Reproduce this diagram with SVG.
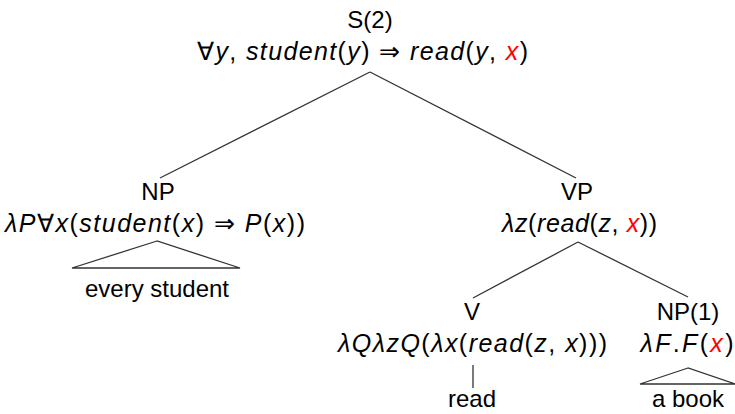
<svg xmlns="http://www.w3.org/2000/svg" width="735" height="414" viewBox="0 0 735 414">
<style>
text{font-family:"Liberation Sans","Noto Sans",sans-serif;font-size:24px;fill:#000;text-anchor:middle}
.f{font-size:25px}
.i{font-style:italic}
.r{fill:#ff0000}
.e{stroke:#333;stroke-width:1.3;fill:none}
</style>
<rect width="735" height="414" fill="#fff"/>
<g id="connectors">
<line class="e" x1="370" y1="72" x2="160" y2="178"/>
<line class="e" x1="370" y1="72" x2="576" y2="178"/>
<line class="e" x1="578" y1="242" x2="473" y2="298"/>
<line class="e" x1="578" y1="242" x2="688" y2="297"/>
<line class="e" x1="473" y1="365" x2="473" y2="388"/>
<polygon class="e" points="157,241 72,268 240,268"/>
<polygon class="e" points="688,368 640,384 735,384"/>
</g>
<g id="S">
<text x="370" y="28">S(2)</text>
<text class="f" x="362.5" y="60" textLength="331" lengthAdjust="spacing">∀<tspan class="i">y</tspan>, <tspan class="i">student</tspan>(<tspan class="i">y</tspan>) ⇒ <tspan class="i">read</tspan>(<tspan class="i">y</tspan>, <tspan class="i r">x</tspan>)</text>
</g>
<g id="NP">
<text x="158" y="200">NP</text>
<text class="f" x="155" y="232" textLength="300" lengthAdjust="spacing"><tspan class="i">λP</tspan>∀<tspan class="i">x</tspan>(<tspan class="i">student</tspan>(<tspan class="i">x</tspan>) ⇒ <tspan class="i">P</tspan>(<tspan class="i">x</tspan>))</text>
</g>
<g id="every_student">
<text x="157" y="297">every student</text>
</g>
<g id="VP">
<text x="577" y="200">VP</text>
<text class="f" x="579.5" y="232" textLength="155" lengthAdjust="spacing"><tspan class="i">λz</tspan>(<tspan class="i">read</tspan>(<tspan class="i">z</tspan>, <tspan class="i r">x</tspan>))</text>
</g>
<g id="V">
<text x="472" y="320">V</text>
<text class="f" x="472.5" y="352" textLength="269" lengthAdjust="spacing"><tspan class="i">λQλzQ</tspan>(<tspan class="i">λx</tspan>(<tspan class="i">read</tspan>(<tspan class="i">z</tspan>, <tspan class="i">x</tspan>)))</text>
</g>
<g id="read">
<text x="472" y="407">read</text>
</g>
<g id="NP1">
<text x="688" y="320">NP(1)</text>
<text class="f" x="687" y="352" textLength="93" lengthAdjust="spacing"><tspan class="i">λF</tspan>.<tspan class="i">F</tspan>(<tspan class="i r">x</tspan>)</text>
</g>
<g id="a_book">
<text x="688" y="407">a book</text>
</g>
</svg>
